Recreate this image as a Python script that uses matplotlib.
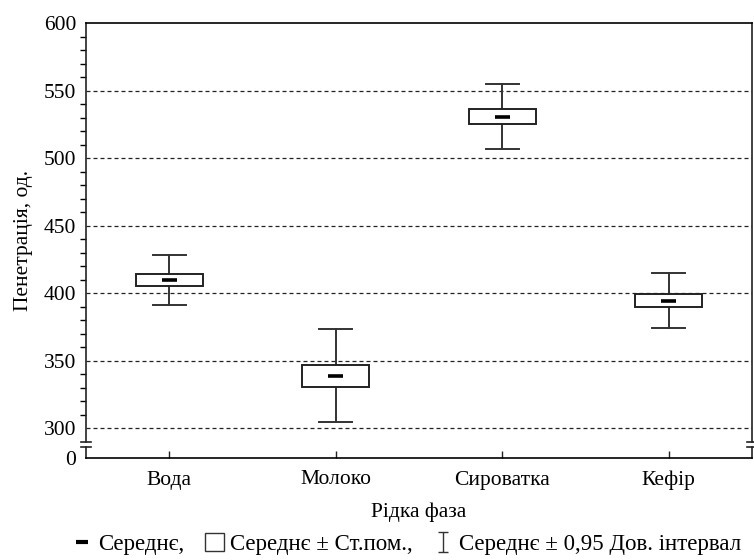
import numpy as np
import matplotlib.pyplot as plt
from matplotlib.patches import Rectangle
from matplotlib.lines import Line2D
from matplotlib.path import Path
import matplotlib.transforms as mtransforms

categories = ['Вода', 'Молоко', 'Сироватка', 'Кефір']
means = [409.6, 338.7, 530.6, 394.4]
se = [4.3, 8.3, 5.4, 4.7]
ci95 = [18.5, 34.6, 23.9, 20.3]
yticks = [300, 350, 400, 450, 500, 550, 600]

plt.rcParams['font.family'] = ['Liberation Serif', 'DejaVu Serif']
plt.rcParams['font.size'] = 15.5

fig, ax = plt.subplots(figsize=(7.54, 5.6), dpi=100)
fig.subplots_adjust(left=86/754, right=752/754, top=1-23/560, bottom=1-458/560)

ybot = 277.8
ax.set_ylim(ybot, 600)
ax.set_xlim(0, 4)
pos = np.arange(len(categories)) + 0.5

# grid
for t in yticks[:-1]:
    ax.axhline(t, color='#222222', lw=0.9, dashes=(3.2, 2.4), zorder=1)

boxw = 0.4
capw = 0.2
for x, m, s, c in zip(pos, means, se, ci95):
    ax.plot([x, x], [m + s, m + c], color='#333333', lw=1.4, zorder=2)
    ax.plot([x, x], [m - s, m - c], color='#333333', lw=1.4, zorder=2)
    ax.plot([x - capw/2, x + capw/2], [m + c, m + c], color='#333333', lw=1.4, zorder=2)
    ax.plot([x - capw/2, x + capw/2], [m - c, m - c], color='#333333', lw=1.4, zorder=2)
    ax.add_patch(Rectangle((x - boxw/2, m - s), boxw, 2*s, facecolor='white',
                           edgecolor='#222222', lw=1.4, zorder=3))
    ax.plot([x - 0.045, x + 0.045], [m, m], color='black', lw=2.6, zorder=4,
            solid_capstyle='butt')

ax.set_xticks(pos)
ax.set_xticklabels(categories)
ax.set_yticks([ybot] + yticks)
ax.set_yticklabels(['0'] + [str(t) for t in yticks])
ax.set_yticks([v for v in range(310, 600, 10) if v % 50], minor=True)
ax.tick_params(axis='both', direction='in', length=5, width=1, color='#222222')
ax.tick_params(axis='y', which='major', length=0, pad=7)
ax.tick_params(axis='y', which='minor', length=4, width=1)
ax.tick_params(axis='x', pad=9)

# broken left / right spines
ax.spines['left'].set_visible(False)
ax.spines['right'].set_visible(False)
ax.spines['top'].set_linewidth(1.2)
ax.spines['bottom'].set_linewidth(1.2)
tr = mtransforms.blended_transform_factory(ax.transAxes, ax.transData)
b1, b2 = 285.6, 289.7
for xs in (0, 1):
    ax.plot([xs, xs], [ybot, b1], color='#222222', lw=1.2, transform=tr, clip_on=False)
    ax.plot([xs, xs], [b2, 600], color='#222222', lw=1.2, transform=tr, clip_on=False)
    for b in (b1, b2):
        ax.plot([xs - 0.007, xs + 0.007], [b, b], color='#222222', lw=1.2,
                transform=tr, clip_on=False)

ax.set_ylabel('Пенетрація, од.', labelpad=8)
ax.set_xlabel('Рідка фаза', labelpad=9)

ibeam = Path([(-0.5, 1), (0.5, 1), (0, 1), (0, -1), (-0.5, -1), (0.5, -1)],
             [Path.MOVETO, Path.LINETO, Path.MOVETO, Path.LINETO, Path.MOVETO, Path.LINETO])
h_mean = Line2D([], [], marker='_', markersize=8, mew=3, color='black', linestyle='none')
h_box = Rectangle((0, 0), 1, 1, facecolor='white', edgecolor='#333333', lw=1)
h_ci = Line2D([], [], marker=ibeam, markersize=15, mew=1, color='#333333',
              markerfacecolor='none', linestyle='none')
fig.legend([h_mean, h_box, h_ci],
           ['Середнє,', 'Середнє ± Ст.пом.,', 'Середнє ± 0,95 Дов. інтервал'],
           loc='center', bbox_to_anchor=(0.54, 1 - 544/560), ncol=3, frameon=False,
           handlelength=0.8, handleheight=0.8, handletextpad=0.3, columnspacing=0.9,
           borderpad=0, fontsize=16.5)

fig.savefig('out.png', dpi=100)
